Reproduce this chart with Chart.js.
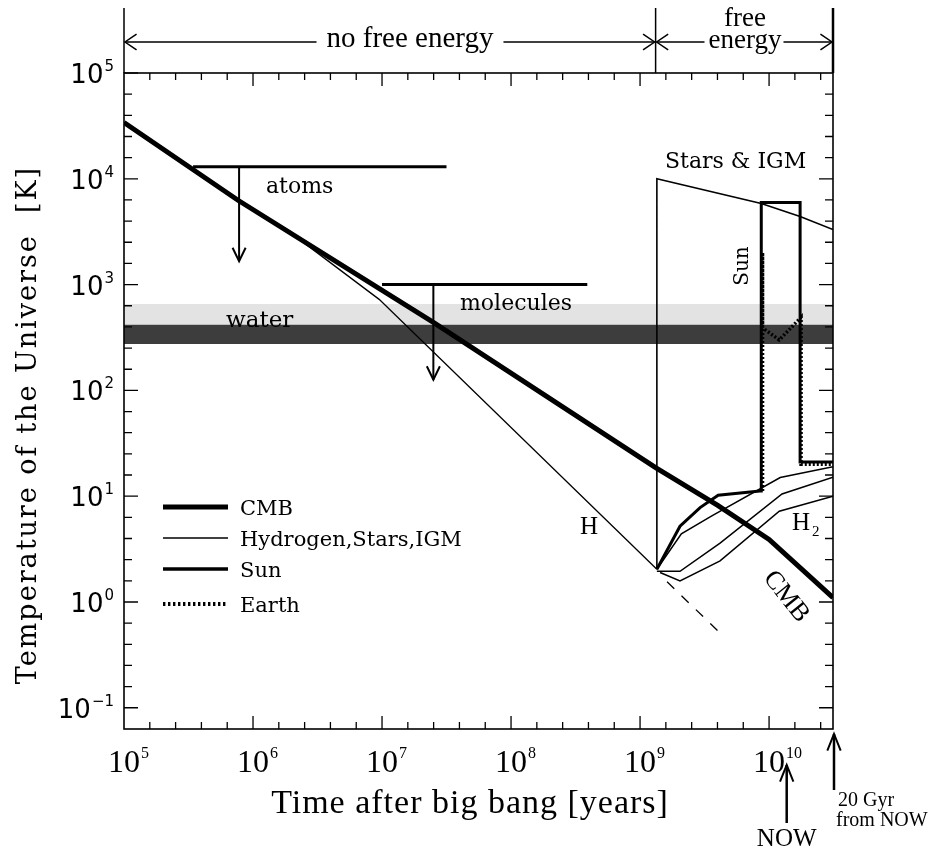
<!DOCTYPE html>
<html lang="en">
<head>
<meta charset="UTF-8">
<title>Temperature of the Universe</title>
<script src="https://cdn.jsdelivr.net/npm/chart.js@4.4.1/dist/chart.umd.min.js"></script>
<style>
  body { margin: 0; background: #fff; }
  canvas { display: block; }
</style>
</head>
<body>
<canvas id="tempChart" width="943" height="851"></canvas>
<script>
// [time after big bang (years), temperature (K)]
const cmb = [[1e5, 3.4e4], [7.6e5, 6300], [2.5e7, 440], [1.32e9, 18.6], [4e9, 8.2], [1e10, 3.9], [3.13e10, 1.1]];
const hydrogen = [[1e5, 3.4e4], [7.6e5, 6300], [1.95e6, 3100], [9.5e6, 725], [1.35e9, 2.04]];
const hydrogenCont = [[1.62e9, 1.55], [4.17e9, 0.51]];
const starsIgm = [[1.35e9, 2.04], [1.35e9, 1e4], [8.7e9, 5840], [1.74e10, 4400], [3.13e10, 3310]];
const sun = [[1.35e9, 2.04], [2.04e9, 5.2], [2.92e9, 7.8], [4.03e9, 10.2], [8.5e9, 11.2], [8.7e9, 11.2],
             [8.7e9, 5960], [1.74e10, 5960], [1.74e10, 21], [3.13e10, 21]];
const earth = [[8.9e9, 11.2], [8.9e9, 2000], [8.9e9, 390], [1.2e10, 300], [1.77e10, 490], [1.77e10, 20], [3.13e10, 20]];
const h2Upper = [[1.35e9, 2.04], [2.09e9, 4.4], [3.6e9, 6.5], [1.22e10, 15], [3.13e10, 19]];
const h2Middle = [[1.35e9, 1.95], [2.04e9, 1.95], [4.17e9, 3.6], [1.26e10, 10.5], [3.13e10, 15.1]];
const h2Lower = [[1.43e9, 1.9], [2.04e9, 1.58], [4.17e9, 2.45], [1.2e10, 7.2], [3.13e10, 10]];

const atomsBar = [[3.43e5, 1.3e4], [3.16e7, 1.3e4]];
const atomsArrow = [[7.8e5, 1.3e4], [7.8e5, 1660]];
const moleculesBar = [[1e7, 1000], [3.9e8, 1000]];
const moleculesArrow = [[2.5e7, 1000], [2.5e7, 126]];

const waterLiquid = [275, 417];   // dark band
const waterVapour = [417, 655];   // light band

const xRange = [1e5, 3.13e10];
const yRange = [0.063, 1e5];
const xTickExp = [5, 6, 7, 8, 9, 10];
const yTickExp = [-1, 0, 1, 2, 3, 4, 5];
const firstStars = 1.32e9;
const now = 1.37e10;

const pts = arr => arr.map(([t, T]) => ({x: t, y: T}));

function line(data, width, extra) {
    return Object.assign({
        data: pts(data), showLine: true, borderColor: '#000', borderWidth: width,
        pointRadius: 0, tension: 0, fill: false, borderJoinStyle: 'miter', order: 1
    }, extra || {});
}

function head(ctx, x, y, ang, len, spread) {
    ctx.beginPath();
    ctx.moveTo(x + len * Math.cos(ang + spread), y + len * Math.sin(ang + spread));
    ctx.lineTo(x, y);
    ctx.lineTo(x + len * Math.cos(ang - spread), y + len * Math.sin(ang - spread));
    ctx.stroke();
}

function power(ctx, exp, x, y, baseFont, supFont, align, rise) {
    ctx.font = baseFont;
    const bw = ctx.measureText('10').width;
    ctx.font = supFont;
    const sw = ctx.measureText(exp).width;
    let left = align === 'right' ? x - bw - sw - 1 : x - bw / 2;
    ctx.textAlign = 'left';
    ctx.font = baseFont;
    ctx.fillText('10', left, y);
    ctx.font = supFont;
    ctx.fillText(exp, left + bw + 1, y - rise);
}

const decor = {
    id: 'decor',
    afterDraw(chart) {
        const {ctx, chartArea: a, scales: {x, y}} = chart;
        const X = v => x.getPixelForValue(v), Y = v => y.getPixelForValue(v);
        ctx.save();
        ctx.strokeStyle = '#000';
        ctx.fillStyle = '#000';
        ctx.textBaseline = 'alphabetic';

        // frame
        ctx.lineWidth = 1.6;
        ctx.strokeRect(a.left, a.top, a.right - a.left, a.bottom - a.top);

        // ticks on all four sides, every 0.2 decade
        ctx.lineWidth = 1.3;
        ctx.beginPath();
        for (let k = 25; k <= 52; k++) {
            const px = X(Math.pow(10, k / 5));
            if (px <= a.left + 1 || px >= a.right - 1) continue;
            const len = k % 5 === 0 ? 13 : 7;
            ctx.moveTo(px, a.bottom); ctx.lineTo(px, a.bottom - len);
            ctx.moveTo(px, a.top); ctx.lineTo(px, a.top + len);
        }
        for (let k = -6; k <= 25; k++) {
            const py = Y(Math.pow(10, k / 5));
            if (py <= a.top + 1 || py >= a.bottom - 1) continue;
            const len = k % 5 === 0 ? 14 : 8;
            ctx.moveTo(a.left, py); ctx.lineTo(a.left + len, py);
            ctx.moveTo(a.right, py); ctx.lineTo(a.right - len, py);
        }
        ctx.stroke();
        ctx.beginPath();
        ctx.moveTo(a.left, Y(1e5)); ctx.lineTo(a.left + 14, Y(1e5));
        ctx.stroke();

        // tick labels
        xTickExp.forEach(e => power(ctx, String(e), X(Math.pow(10, e)), a.bottom + 43,
            '32px "Liberation Serif"', '16px "Liberation Serif"', 'center', 14));
        yTickExp.forEach(e => power(ctx, e < 0 ? '\u2212' + (-e) : String(e), 114, Y(Math.pow(10, e)) + 10,
            '26px "DejaVu Sans"', '15px "DejaVu Sans"', 'right', 12));

        // axis titles
        ctx.textAlign = 'center';
        ctx.font = '34px "Liberation Serif"';
        ctx.letterSpacing = '1px';
        ctx.fillText('Time after big bang [years]', 470, 813);
        ctx.save();
        ctx.translate(36, 425);
        ctx.rotate(-Math.PI / 2);
        ctx.font = '27px "DejaVu Serif"';
        ctx.letterSpacing = '2px';
        ctx.fillText('Temperature of the Universe  [K]', 0, 0);
        ctx.restore();
        ctx.letterSpacing = '0px';

        // header: free energy regions
        const xs = X(firstStars);
        ctx.lineWidth = 1.5;
        ctx.beginPath();
        ctx.moveTo(a.left, 8); ctx.lineTo(a.left, a.top);
        ctx.moveTo(xs, 8); ctx.lineTo(xs, a.top);
        ctx.stroke();
        ctx.lineWidth = 2.5;
        ctx.beginPath();
        ctx.moveTo(a.right, 8); ctx.lineTo(a.right, a.top);
        ctx.stroke();
        ctx.lineWidth = 1.5;
        const ay = 42;
        ctx.font = '29px "Liberation Serif"';
        ctx.textAlign = 'center';
        ctx.fillText('no free energy', 410, 47);
        const w1 = ctx.measureText('no free energy').width / 2;
        ctx.beginPath();
        ctx.moveTo(a.left + 1, ay); ctx.lineTo(410 - w1 - 10, ay);
        ctx.moveTo(410 + w1 + 10, ay); ctx.lineTo(xs - 1, ay);
        ctx.stroke();
        head(ctx, a.left + 1, ay, 0, 14, 0.6);
        head(ctx, xs - 1, ay, Math.PI, 14, 0.6);
        ctx.font = '27px "Liberation Serif"';
        ctx.fillText('free', 745, 26);
        ctx.fillText('energy', 745, 48);
        const w2 = ctx.measureText('energy').width / 2;
        ctx.beginPath();
        ctx.moveTo(xs + 1, ay); ctx.lineTo(745 - w2 - 4, ay);
        ctx.moveTo(745 + w2 + 2, ay); ctx.lineTo(a.right - 1, ay);
        ctx.stroke();
        head(ctx, xs + 1, ay, 0, 14, 0.6);
        head(ctx, a.right - 1, ay, Math.PI, 14, 0.6);

        // arrowheads on atoms / molecules markers
        ctx.lineWidth = 2;
        [atomsArrow, moleculesArrow].forEach(arr => {
            const p = arr[arr.length - 1];
            head(ctx, X(p[0]), Y(p[1]), -Math.PI / 2, 15, 0.45);
        });

        // NOW and 20 Gyr arrows
        const xn = X(now);
        ctx.lineWidth = 2.5;
        ctx.beginPath();
        ctx.moveTo(xn, 765); ctx.lineTo(xn, 823);
        ctx.moveTo(a.right + 1, a.bottom + 5); ctx.lineTo(a.right + 1, 790);
        ctx.stroke();
        ctx.lineWidth = 2;
        head(ctx, xn, 765, Math.PI / 2, 18, 0.38);
        head(ctx, a.right + 1, a.bottom + 5, Math.PI / 2, 18, 0.38);
        ctx.font = '25px "Liberation Serif"';
        ctx.textAlign = 'center';
        ctx.fillText('NOW', xn, 846);
        ctx.font = '20px "Liberation Serif"';
        ctx.textAlign = 'left';
        ctx.fillText('20 Gyr', a.right + 5, 806);
        ctx.fillText('from NOW', a.right + 3, 826);

        // in-plot labels
        ctx.font = '22px "DejaVu Serif"';
        ctx.textAlign = 'left';
        ctx.fillText('atoms', 266, 193);
        ctx.fillText('molecules', 460, 310);
        ctx.fillText('Stars & IGM', 665, 168);
        ctx.font = '23px "DejaVu Serif"';
        ctx.fillText('water', 226, 327);
        ctx.font = '25px "Liberation Serif"';
        ctx.fillText('H', 580, 534);
        ctx.fillText('H', 792, 530);
        ctx.font = '15px "Liberation Serif"';
        ctx.fillText('2', 812, 536);
        ctx.save();
        ctx.translate(748, 266);
        ctx.rotate(-Math.PI / 2);
        ctx.font = '20px "DejaVu Serif"';
        ctx.textAlign = 'center';
        ctx.fillText('Sun', 0, 0);
        ctx.restore();
        ctx.save();
        ctx.translate(787, 596);
        ctx.rotate(0.9);
        ctx.font = '26px "Liberation Serif"';
        ctx.textAlign = 'center';
        ctx.fillText('CMB', 0, 8);
        ctx.restore();

        // legend
        const rows = [
            ['CMB', 5, []], ['Hydrogen,Stars,IGM', 1.3, []], ['Sun', 3.5, []], ['Earth', 4, [2.4, 2.6]]
        ];
        const rowY = [507, 538, 569, 604];
        ctx.font = '21px "DejaVu Serif"';
        rows.forEach((r, i) => {
            ctx.lineWidth = r[1];
            ctx.setLineDash(r[2]);
            ctx.beginPath();
            ctx.moveTo(163, rowY[i]); ctx.lineTo(228, rowY[i]);
            ctx.stroke();
            ctx.setLineDash([]);
            ctx.fillText(r[0], 240, rowY[i] + 8);
        });
        ctx.restore();
    }
};

new Chart(document.getElementById('tempChart').getContext('2d'), {
    type: 'scatter',
    data: {
        datasets: [
            line(cmb, 5),
            line(earth, 3.5, {borderDash: [2, 2]}),
            line(sun, 3),
            line(hydrogen, 1.3),
            line(hydrogenCont, 1.3, {borderDash: [10, 10]}),
            line(starsIgm, 1.6),
            line(h2Upper, 1.5),
            line(h2Middle, 1.5),
            line(h2Lower, 1.5),
            line(atomsBar, 3),
            line(atomsArrow, 2),
            line(moleculesBar, 3),
            line(moleculesArrow, 2),
            line([[xRange[0], waterLiquid[1]], [xRange[1], waterLiquid[1]]], 0,
                {fill: {value: waterLiquid[0]}, backgroundColor: '#3d3d3d', order: 5}),
            line([[xRange[0], waterVapour[1]], [xRange[1], waterVapour[1]]], 0,
                {fill: {value: waterVapour[0]}, backgroundColor: '#e3e3e3', order: 6})
        ]
    },
    options: {
        responsive: false,
        animation: false,
        layout: {padding: {left: 124, right: 110, top: 73, bottom: 122}},
        plugins: {legend: {display: false}, tooltip: {enabled: false}},
        scales: {
            x: {type: 'logarithmic', min: xRange[0], max: xRange[1], display: false},
            y: {type: 'logarithmic', min: yRange[0], max: yRange[1], display: false}
        }
    },
    plugins: [decor]
});
</script>
</body>
</html>
